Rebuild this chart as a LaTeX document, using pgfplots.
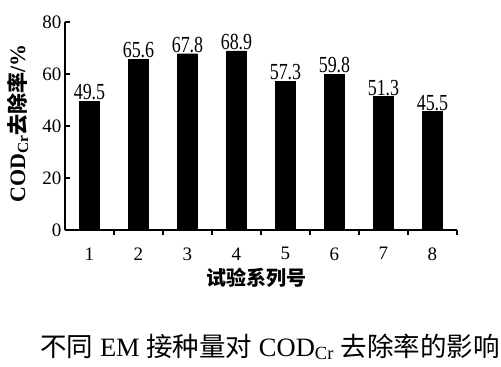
\documentclass[border=0pt]{standalone}
\usepackage{pgfplots}
\pgfplotsset{compat=1.18}
\usepackage{fontspec}
\setmainfont{Liberation Serif}
\newfontfamily\narrow{Liberation Serif}[FakeStretch=0.78]
\newfontfamily\cjk{Noto Sans CJK SC}
\begin{document}
\begin{tikzpicture}[x=1pt,y=1pt]
\useasboundingbox (0,0) rectangle (501,367);
\begin{axis}[
  at={(65pt,137pt)}, anchor=south west,
  scale only axis, width=392pt, height=208pt,
  xmin=0.5, xmax=8.5, ymin=0, ymax=80,
  axis x line*=bottom, axis y line*=left,
  axis line style={line width=1.5pt},
  ytick={0,20,40,60,80},
  xtick={1.5,2.5,...,8.5}, xticklabels={},
  extra x ticks={1,2,3,4,5,6,7,8},
  extra x tick labels={1,2,3,4,5,6,7,8},
  extra x tick style={tick style={draw=none}, xticklabel style={yshift=-9pt}},
  tick align=inside, major tick length=5pt,
  tick style={line width=1.2pt, black},
  ticklabel style={font=\fontsize{19}{19}\selectfont},
  /pgf/number format/assume math mode=true,
  ybar, bar width=20pt,
  nodes near coords,
  point meta=y,
  nodes near coords={\pgfmathprintnumber[fixed,precision=1,fixed zerofill]{\pgfplotspointmeta}},
  every node near coord/.append style={font=\narrow\fontsize{23}{23}\selectfont, anchor=south, inner sep=1pt},
]
\addplot[fill=black, draw=black] coordinates {(1,49.5) (2,65.6) (3,67.8) (4,68.9) (5,57.3) (6,59.8) (7,51.3) (8,45.5)};
\end{axis}
\node[rotate=90, font=\fontsize{22}{22}\selectfont\bfseries, inner sep=0pt] at (17.5,243.5) {COD\textsubscript{Cr}{\cjk\fontsize{21}{21}\selectfont 去除率}/\%};
\node[font=\fontsize{20}{20}\selectfont\bfseries] at (256,89) {\cjk 试验系列号};
\node[font=\fontsize{26.5}{26.5}\selectfont, inner sep=0pt] at (270,20) {{\cjk 不同} EM {\cjk 接种量对} COD\textsubscript{Cr} {\cjk 去除率的影响}};
\end{tikzpicture}
\end{document}
